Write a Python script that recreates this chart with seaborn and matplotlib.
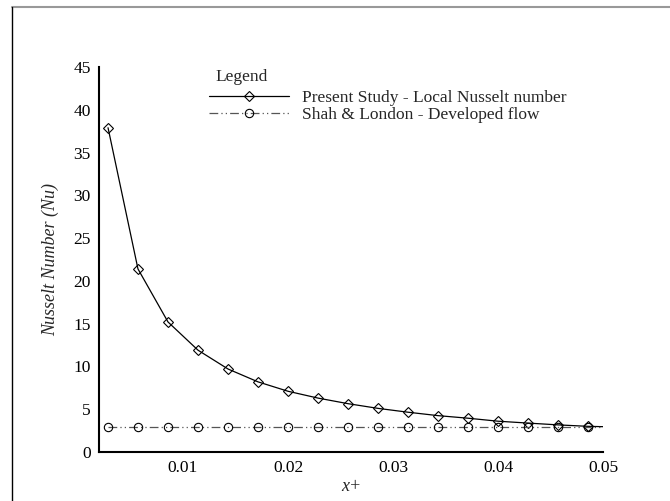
import numpy as np
import pandas as pd
import matplotlib
matplotlib.use("Agg")
import matplotlib.pyplot as plt
import seaborn as sns
from matplotlib.lines import Line2D
from matplotlib.ticker import MultipleLocator

# x+ stations (last one carries no symbol)
x_plus = [0.00286, 0.00571, 0.00857, 0.01143, 0.01429, 0.01714, 0.02, 0.02286,
          0.02571, 0.02857, 0.03143, 0.03429, 0.03714, 0.04, 0.04286, 0.04571,
          0.04857, 0.05]
nu_present = [37.9, 21.4, 15.2, 11.9, 9.7, 8.2, 7.1, 6.3, 5.65, 5.1, 4.65, 4.25,
              3.95, 3.6, 3.38, 3.17, 3.0, 2.96]
nu_shah = [2.95] * len(x_plus)

series_names = ["Present Study - Local Nusselt number",
                "Shah & London - Developed flow"]

df = pd.DataFrame({
    "x": x_plus * 2,
    "Nu": nu_present + nu_shah,
    "series": [series_names[0]] * len(x_plus) + [series_names[1]] * len(x_plus),
})

sns.set_style("white")
plt.rcParams["font.family"] = ["Liberation Serif", "DejaVu Serif"]

fig = plt.figure(figsize=(6.7, 5.01), dpi=100)
ax = fig.add_axes([99 / 670, 1 - 452 / 501, 504 / 670, 385 / 501])

dashdotdot = (0, (7, 2.5, 1, 2.5, 1, 2.5))
styles = {series_names[0]: dict(color="black", ls="-", marker="D", ms=5),
          series_names[1]: dict(color="#555555", ls=dashdotdot, marker="o", ms=6)}

nmark = len(x_plus) - 1
for name in series_names:
    st = styles[name]
    sub = df[df["series"] == name]
    sns.lineplot(data=sub, x="x", y="Nu", ax=ax, color=st["color"], linestyle=st["ls"],
                 lw=0.9, marker=st["marker"], markersize=st["ms"], markevery=list(range(nmark)),
                 markerfacecolor="none", markeredgecolor="black", markeredgewidth=0.8,
                 legend=False)

ax.set_xlim(0.002, 0.05)
ax.set_ylim(0, 45)
ax.xaxis.set_minor_locator(MultipleLocator(0.002))
ax.yaxis.set_major_locator(MultipleLocator(5))
ax.yaxis.set_minor_locator(MultipleLocator(1))
ax.set_xticks([0.01, 0.02, 0.03, 0.04, 0.05])
ax.set_xticklabels(["0.01", "0.02", "0.03", "0.04", "0.05"])

for s in ["top", "right"]:
    ax.spines[s].set_visible(False)
for s in ["left", "bottom"]:
    ax.spines[s].set_linewidth(1.5)
    ax.spines[s].set_color("black")

ax.tick_params(which="major", direction="in", length=7, width=1.5, labelsize=12.5,
               pad=6, colors="black")
ax.tick_params(which="minor", direction="in", length=4, width=0.9)

ax.set_xlabel("x+", fontsize=13, style="italic", labelpad=1)
ax.set_ylabel("Nusselt Number (Nu)", fontsize=13, style="italic", labelpad=10)

handles = []
for name in series_names:
    st = styles[name]
    handles.append(Line2D([], [], color=st["color"], lw=0.9, ls=st["ls"], marker=st["marker"],
                          ms=st["ms"], markerfacecolor="none", markeredgecolor="black",
                          markeredgewidth=0.8))
fig.text(215 / 670, 1 - 77 / 501, "Legend", fontsize=12.5, ha="left", va="center")
fig.legend(handles, series_names, loc="upper left",
           bbox_to_anchor=(209 / 670, 1 - 90 / 501), frameon=False,
           fontsize=12.5, handlelength=4.6, handletextpad=0.75, labelspacing=0.05,
           borderpad=0, borderaxespad=0)

# outer frame
fig.add_artist(Line2D([12 / 670, 1], [1 - 7 / 501, 1 - 7 / 501], transform=fig.transFigure,
                      color="#999999", lw=1.5))
fig.add_artist(Line2D([12 / 670, 12 / 670], [0, 1 - 7 / 501], transform=fig.transFigure,
                      color="black", lw=1.0))

fig.savefig("out.png", dpi=100)
